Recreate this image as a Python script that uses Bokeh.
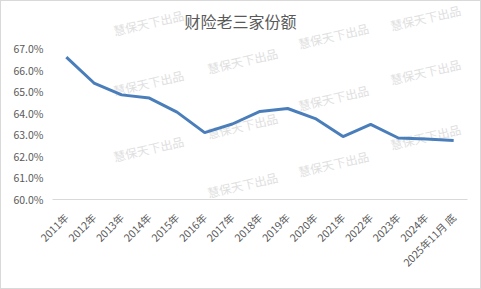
import math
from bokeh.plotting import figure
from bokeh.models import Range1d, FixedTicker, NumeralTickFormatter, Label
from bokeh.embed import file_html
from bokeh.resources import INLINE

# ---- data ----
categories = ["2011年", "2012年", "2013年", "2014年", "2015年", "2016年", "2017年",
              "2018年", "2019年", "2020年", "2021年", "2022年", "2023年", "2024年",
              "2025年11月 底"]
share = [0.666, 0.654, 0.6485, 0.647, 0.6405, 0.631, 0.635,
         0.6408, 0.6422, 0.6375, 0.6292, 0.6348, 0.6285, 0.628, 0.6273]
y_ticks = [0.60, 0.61, 0.62, 0.63, 0.64, 0.65, 0.66, 0.67]
title_text = "财险老三家份额"
watermark_text = "慧保天下出品"

FONT = "Noto Sans CJK SC"
GREY = "#595959"

# value axis 60%..67% occupies y=48..199; range extended upward so the title area is drawable
Y_MIN, Y_MAX = 0.60, 0.67
top_pad = (Y_MAX - Y_MIN) * 48 / 151

p = figure(width=481, height=289, x_range=categories,
           y_range=Range1d(Y_MIN, Y_MAX + top_pad),
           output_backend="svg", toolbar_location=None,
           min_border_left=52, min_border_right=14, min_border_top=0, min_border_bottom=90)
p.title.visible = False

p.background_fill_color = None
p.border_fill_color = None
p.outline_line_color = None
p.grid.visible = False
p.styles = {"background-color": "white", "box-shadow": "inset 0 0 0 1px #d9d9d9"}

# watermarks (decorative)
wm = [(148, 22), (333, 35), (425, 17),
      (148, 82), (242, 60), (333, 97), (425, 71),
      (148, 148), (242, 125), (333, 163), (425, 136),
      (242, 184)]
for (cx, cy) in wm:
    p.add_layout(Label(x=cx, y=cy, x_units="canvas", y_units="canvas",
                       text=watermark_text, text_font=FONT, text_font_size="12px",
                       text_color="#e0e0e0", text_align="center", text_baseline="middle",
                       angle=math.radians(13), level="underlay"))

# title
p.add_layout(Label(x=240, y=20, x_units="canvas", y_units="canvas",
                   text=title_text, text_font=FONT, text_font_size="16px",
                   text_color=GREY, text_align="center", text_baseline="middle",
                   level="overlay"))

p.line(x=categories, y=share, line_color="#4a7ebb", line_width=3)

yax = p.yaxis[0]
yax.ticker = FixedTicker(ticks=y_ticks)
yax.formatter = NumeralTickFormatter(format="0.0%")
yax.axis_line_color = None
yax.major_tick_line_color = None
yax.minor_tick_line_color = None
yax.major_tick_out = 0
yax.major_label_standoff = 9
yax.major_label_text_font = FONT
yax.major_label_text_font_size = "10.5px"
yax.major_label_text_color = GREY

xax = p.xaxis[0]
xax.axis_line_color = "#d9d9d9"
xax.axis_line_width = 1
xax.major_tick_line_color = None
xax.minor_tick_line_color = None
xax.major_tick_out = 0
xax.major_label_standoff = 16
xax.major_label_orientation = math.pi / 4
xax.major_label_text_font = FONT
xax.major_label_text_font_size = "10.5px"
xax.major_label_text_color = GREY

open("out.html", "w").write(file_html(p, INLINE))
